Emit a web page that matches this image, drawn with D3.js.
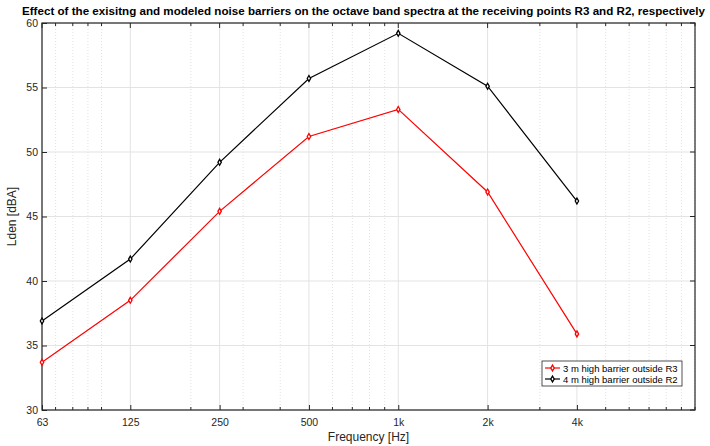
<!DOCTYPE html>
<html>
<head>
<meta charset="utf-8">
<script src="https://cdn.jsdelivr.net/npm/d3@7"></script>
<style>
  body { margin: 0; background: #fff; }
  text { font-family: "Liberation Sans", Arial, sans-serif; }
</style>
</head>
<body>
<div id="chart"></div>
<script>
'use strict';

// octave band centre frequencies
var freqs = [63, 125, 250, 500, 1000, 2000, 4000];
var tickLabels = ["63", "125", "250", "500", "1k", "2k", "4k"];
var seriesNames = ["3 m high barrier outside R3", "4 m high barrier outside R2"];
var seriesColors = ["#ff0000", "#000000"];
var r3Values = [33.7, 38.5, 45.4, 51.2, 53.3, 46.9, 35.9];
var r2Values = [36.9, 41.7, 49.2, 55.7, 59.2, 55.1, 46.2];
var yTicks = [30, 35, 40, 45, 50, 55, 60];

var W = 710, H = 446;
var m = {top: 23, right: 15, bottom: 36, left: 42};
var iw = W - m.left - m.right;
var ih = H - m.top - m.bottom;

var svg = d3.select("#chart").append("svg")
  .attr("width", W).attr("height", H);

var x = d3.scaleLog().domain([63, 10000]).range([0, iw]);
var y = d3.scaleLinear().domain([30, 60]).range([ih, 0]);

var g = svg.append("g").attr("transform", "translate(" + m.left + "," + m.top + ")");

// minor log positions
var minor = [];
[10, 100, 1000].forEach(function(dec) {
  for (var k = 1; k <= 10; k++) {
    var v = dec * k;
    if (v > 63 && v <= 10000 && freqs.indexOf(v) < 0) minor.push(v);
  }
});
minor = Array.from(new Set(minor));

// grid
g.append("g").selectAll("line").data(minor).enter().append("line")
  .attr("x1", function(d) { return x(d); }).attr("x2", function(d) { return x(d); })
  .attr("y1", 0).attr("y2", ih)
  .attr("stroke", "#d9d9d9").attr("stroke-width", 0.8).attr("stroke-dasharray", "1,2");
g.append("g").selectAll("line").data(freqs).enter().append("line")
  .attr("x1", function(d) { return x(d); }).attr("x2", function(d) { return x(d); })
  .attr("y1", 0).attr("y2", ih)
  .attr("stroke", "#e3e3e3").attr("stroke-width", 1);
g.append("g").selectAll("line").data(yTicks).enter().append("line")
  .attr("x1", 0).attr("x2", iw)
  .attr("y1", function(d) { return y(d); }).attr("y2", function(d) { return y(d); })
  .attr("stroke", "#e3e3e3").attr("stroke-width", 1);

// axes (ticks inward, mirrored on top/right)
var xAxis = d3.axisBottom(x).tickValues(freqs)
  .tickFormat(function(d, i) { return tickLabels[i]; })
  .tickSizeInner(-5).tickSizeOuter(0).tickPadding(9);
var yAxis = d3.axisLeft(y).tickValues(yTicks).tickSizeInner(-5).tickSizeOuter(0).tickPadding(4);

var xa = g.append("g").attr("transform", "translate(0," + ih + ")").call(xAxis);
var ya = g.append("g").call(yAxis);
[xa, ya].forEach(function(a) {
  a.select(".domain").remove();
  a.selectAll("line").attr("stroke", "#262626");
  a.selectAll("text").attr("fill", "#262626").style("font-size", "10.5px")
    .style("font-family", "'Liberation Sans', Arial, sans-serif");
});

// minor ticks on bottom and top
var mt = g.append("g");
minor.forEach(function(v) {
  mt.append("line").attr("x1", x(v)).attr("x2", x(v)).attr("y1", ih).attr("y2", ih - 3).attr("stroke", "#262626");
  mt.append("line").attr("x1", x(v)).attr("x2", x(v)).attr("y1", 0).attr("y2", 3).attr("stroke", "#262626");
});
freqs.forEach(function(v) {
  mt.append("line").attr("x1", x(v)).attr("x2", x(v)).attr("y1", 0).attr("y2", 5).attr("stroke", "#262626");
});
yTicks.forEach(function(v) {
  mt.append("line").attr("x1", iw).attr("x2", iw - 5).attr("y1", y(v)).attr("y2", y(v)).attr("stroke", "#262626");
});

// box
g.append("rect").attr("width", iw).attr("height", ih)
  .attr("fill", "none").attr("stroke", "#262626").attr("stroke-width", 1.2);

// lines
var series = [r3Values, r2Values];
var line = d3.line().x(function(d, i) { return x(freqs[i]); }).y(function(d) { return y(d); });
var diamond = d3.symbol().type(d3.symbolDiamond).size(10);

series.forEach(function(vals, s) {
  g.append("path").datum(vals).attr("d", line)
    .attr("fill", "none").attr("stroke", seriesColors[s]).attr("stroke-width", 1.2);
  g.append("g").selectAll("path").data(vals).enter().append("path")
    .attr("d", diamond)
    .attr("transform", function(d, i) { return "translate(" + x(freqs[i]) + "," + y(d) + ")"; })
    .attr("fill", "#fff").attr("stroke", seriesColors[s]).attr("stroke-width", 1.3);
});

// legend
var lg = svg.append("g").attr("transform", "translate(542,361)");
lg.append("rect").attr("width", 140).attr("height", 25)
  .attr("fill", "#fff").attr("stroke", "#262626").attr("stroke-width", 0.8);
seriesNames.forEach(function(name, s) {
  var yy = 7 + s * 11;
  lg.append("line").attr("x1", 3).attr("x2", 18).attr("y1", yy).attr("y2", yy)
    .attr("stroke", seriesColors[s]).attr("stroke-width", 1.2);
  lg.append("path").attr("d", diamond).attr("transform", "translate(10.5," + yy + ")")
    .attr("fill", "#fff").attr("stroke", seriesColors[s]).attr("stroke-width", 1.3);
  lg.append("text").attr("x", 21).attr("y", yy + 3.5).text(name)
    .attr("fill", "#000").style("font-size", "9.5px");
});

// titles
svg.append("text").attr("x", 22).attr("y", 15)
  .attr("textLength", 683).attr("lengthAdjust", "spacingAndGlyphs")
  .style("font-size", "11.5px").style("font-weight", "bold")
  .text("Effect of the exisitng and modeled noise barriers on the octave band spectra at the receiving points R3 and R2, respectively");
svg.append("text").attr("x", m.left + iw / 2).attr("y", 441)
  .attr("text-anchor", "middle").style("font-size", "12px").attr("fill", "#262626")
  .text("Frequency [Hz]");
svg.append("text").attr("transform", "translate(16," + (m.top + ih / 2) + ") rotate(-90)")
  .attr("text-anchor", "middle").style("font-size", "12px").attr("fill", "#262626")
  .text("Lden [dBA]");
</script>
</body>
</html>
